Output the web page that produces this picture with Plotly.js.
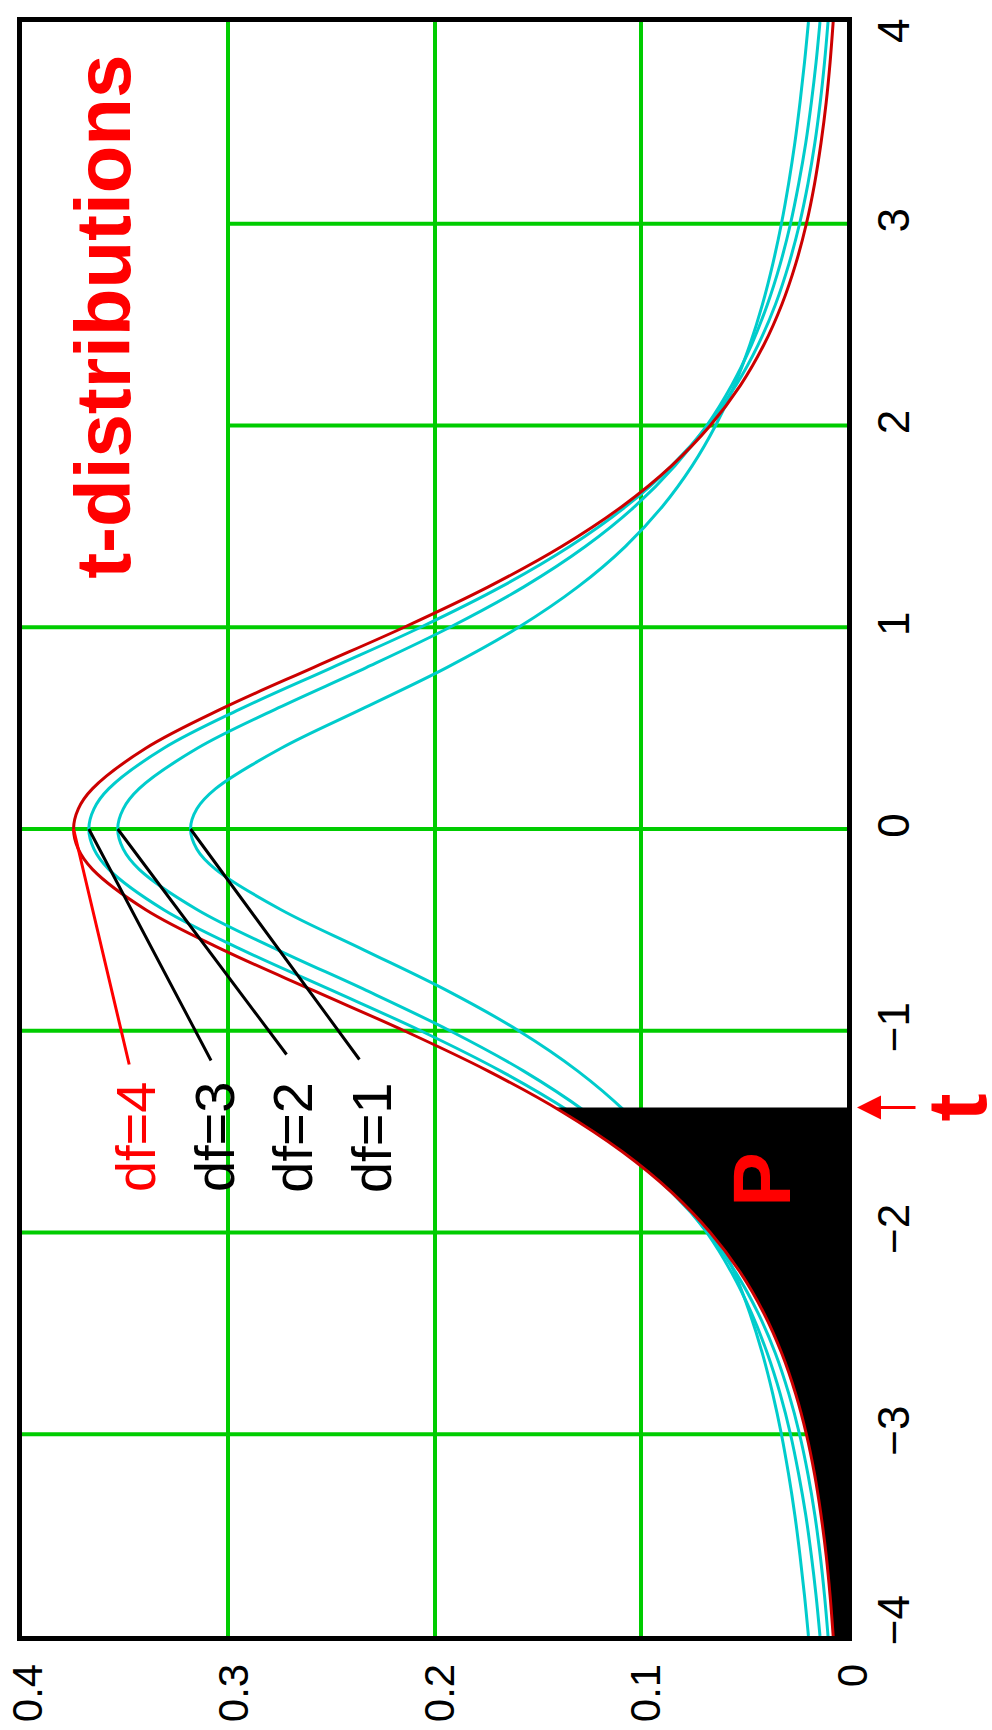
<!DOCTYPE html>
<html>
<head>
<meta charset="utf-8">
<script src="https://cdn.plot.ly/plotly-3.0.1.min.js"></script>
<style>
  html, body { margin: 0; padding: 0; background: #ffffff; }
  #chart { width: 992px; height: 1730px; }
</style>
</head>
<body>
<div id="chart"></div>
<script>
// t values along the horizontal axis of the distributions
const tVals = [-4, -3.8, -3.6, -3.4, -3.2, -3, -2.8, -2.6, -2.4, -2.2, -2, -1.8, -1.6, -1.4, -1.2, -1, -0.8, -0.6, -0.4, -0.2, -0.1,
  0, 0.1, 0.2, 0.4, 0.6, 0.8, 1, 1.2, 1.4, 1.6, 1.8, 2, 2.2, 2.4, 2.6, 2.8, 3, 3.2, 3.4, 3.6, 3.8, 4];

// probability density for each degree of freedom
const densDf1 = [0.0187, 0.0206, 0.0228, 0.0253, 0.0283, 0.0318, 0.0360, 0.0410, 0.0471, 0.0545, 0.0637, 0.0751, 0.0894, 0.1075, 0.1305, 0.1592, 0.1941, 0.2341, 0.2744, 0.3061, 0.3152,
  0.3183, 0.3152, 0.3061, 0.2744, 0.2341, 0.1941, 0.1592, 0.1305, 0.1075, 0.0894, 0.0751, 0.0637, 0.0545, 0.0471, 0.0410, 0.0360, 0.0318, 0.0283, 0.0253, 0.0228, 0.0206, 0.0187];
const densDf2 = [0.0131, 0.0150, 0.0173, 0.0200, 0.0234, 0.0274, 0.0324, 0.0386, 0.0463, 0.0559, 0.0680, 0.0834, 0.1027, 0.1269, 0.1567, 0.1925, 0.2331, 0.2758, 0.3150, 0.3432, 0.3509,
  0.3536, 0.3509, 0.3432, 0.3150, 0.2758, 0.2331, 0.1925, 0.1567, 0.1269, 0.1027, 0.0834, 0.0680, 0.0559, 0.0463, 0.0386, 0.0324, 0.0274, 0.0234, 0.0200, 0.0173, 0.0150, 0.0131];
const densDf3 = [0.0092, 0.0109, 0.0130, 0.0156, 0.0189, 0.0230, 0.0282, 0.0347, 0.0431, 0.0538, 0.0675, 0.0850, 0.1070, 0.1345, 0.1678, 0.2067, 0.2497, 0.2930, 0.3313, 0.3579, 0.3651,
  0.3676, 0.3651, 0.3579, 0.3313, 0.2930, 0.2497, 0.2067, 0.1678, 0.1345, 0.1070, 0.0850, 0.0675, 0.0538, 0.0431, 0.0347, 0.0282, 0.0230, 0.0189, 0.0156, 0.0130, 0.0109, 0.0092];
const densDf4 = [0.0067, 0.0082, 0.0101, 0.0126, 0.0157, 0.0197, 0.0249, 0.0316, 0.0403, 0.0516, 0.0663, 0.0851, 0.1089, 0.1384, 0.1739, 0.2147, 0.2588, 0.3023, 0.3400, 0.3658, 0.3727,
  0.3750, 0.3727, 0.3658, 0.3400, 0.3023, 0.2588, 0.2147, 0.1739, 0.1384, 0.1089, 0.0851, 0.0663, 0.0516, 0.0403, 0.0316, 0.0249, 0.0197, 0.0157, 0.0126, 0.0101, 0.0082, 0.0067];

const dfLabels = ['df=1', 'df=2', 'df=3', 'df=4'];

// cut-off t for the shaded tail area P, and the df=4 density there
const tCut = -1.38;
const densCut = 0.1417;

// axis ticks (end labels on the t axis are padded so they sit inside the frame)
const densTicks = [0, 0.1, 0.2, 0.3, 0.4];
const tTicks = [-4, -3, -2, -1, 0, 1, 2, 3, 4];
const tTickText = ['\u2007\u22124', '\u22123', '\u22122', '\u22121', '0', '1', '2', '3', '4\u2007'];

// horizontal grid rows (t) and the density where each row starts
const gridRowsT = [3, 2, 1, 0, -1, -2, -3];
const gridRowsFrom = [0.3, 0.3, 0.4, 0.4, 0.4, 0.4, 0.4];

const FONT = 'Liberation Sans, Arial, sans-serif';
const CYAN = '#00CCCC';
const DARKRED = '#CC0000';
const RED = '#FF0000';
const GREEN = '#00CC00';

// shaded tail: df=4 curve from t=-4 up to the cut-off
const tailT = [], tailD = [];
for (let i = 0; i < tVals.length; i++) {
  if (tVals[i] < tCut) { tailT.push(tVals[i]); tailD.push(densDf4[i]); }
}
tailT.push(tCut); tailD.push(densCut);

function curve(dens, color) {
  return {
    type: 'scatter', mode: 'lines', x: dens, y: tVals,
    line: { color: color, width: 3, shape: 'spline', smoothing: 1 },
    hoverinfo: 'skip'
  };
}

const traces = [
  curve(densDf1, CYAN),
  curve(densDf2, CYAN),
  curve(densDf3, CYAN),
  {
    type: 'scatter', mode: 'lines', x: tailD, y: tailT,
    fill: 'tozerox', fillcolor: '#000000',
    line: { color: '#000000', width: 0, shape: 'spline', smoothing: 1 },
    hoverinfo: 'skip'
  },
  curve(densDf4, DARKRED)
];

const shapes = gridRowsT.map((t, i) => ({
  type: 'line', xref: 'x', yref: 'y', layer: 'below',
  x0: gridRowsFrom[i], x1: 0, y0: t, y1: t,
  line: { color: GREEN, width: 4 }
}));

// pointers from each label to the peak of its curve (at t = 0)
const iZero = tVals.indexOf(0);
const peaks = [densDf1[iZero], densDf2[iZero], densDf3[iZero], densDf4[iZero]];
const pointerDx = [170, 170, 123, 56];
const pointerDy = [232, 227, 233, 237];
const labelDens = [0.2308, 0.2693, 0.3069, 0.3452];
const labelT = -1.527;
const labelColors = ['#000000', '#000000', '#000000', RED];

const annotations = [];
for (let i = 0; i < 4; i++) {
  annotations.push({
    xref: 'x', yref: 'y', x: peaks[i], y: 0, text: '',
    showarrow: true, arrowhead: 0, arrowwidth: 3, arrowcolor: labelColors[i],
    ax: pointerDx[i], ay: pointerDy[i]
  });
  annotations.push({
    xref: 'x', yref: 'y', x: labelDens[i], y: labelT, text: dfLabels[i],
    showarrow: false, textangle: -90, xanchor: 'center', yanchor: 'middle',
    font: { family: FONT, size: 56, color: labelColors[i] }
  });
}

// title
annotations.push({
  xref: 'paper', yref: 'paper', x: 0.0988, y: 0.817, text: '<b>t-distributions</b>',
  showarrow: false, textangle: -90, xanchor: 'center', yanchor: 'middle',
  font: { family: FONT, size: 78, color: RED }
});

// P inside the shaded tail
annotations.push({
  xref: 'paper', yref: 'paper', x: 0.8958, y: 0.2825, text: '<b>P</b>',
  showarrow: false, textangle: -90, xanchor: 'center', yanchor: 'middle',
  font: { family: FONT, size: 82, color: RED }
});

// arrow marking the cut-off on the t axis, with its t label
annotations.push({
  xref: 'paper', yref: 'y', x: 1, y: tCut, text: '',
  showarrow: true, arrowhead: 2, arrowsize: 1.6, arrowwidth: 3, arrowcolor: RED,
  ax: 70, ay: 0, standoff: 10
});
annotations.push({
  xref: 'paper', yref: 'y', x: 1, y: tCut, xshift: 110, text: '<b>t</b>',
  showarrow: false, textangle: -90, xanchor: 'center', yanchor: 'middle',
  font: { family: FONT, size: 84, color: RED }
});

const layout = {
  width: 992, height: 1730,
  margin: { l: 22, r: 145, t: 22, b: 94, pad: 0 },
  paper_bgcolor: '#ffffff', plot_bgcolor: '#ffffff',
  showlegend: false,
  xaxis: {
    range: [0.4, 0], tickmode: 'array', tickvals: densTicks,
    showgrid: true, gridcolor: GREEN, gridwidth: 4, zeroline: false,
    showline: true, linecolor: '#000000', linewidth: 5, mirror: true,
    ticks: '', tickangle: -90, ticklabelstandoff: 6, ticklabelshift: -6, ticklabeloverflow: 'allow',
    tickfont: { family: FONT, size: 42, color: '#000000' },
    fixedrange: true
  },
  yaxis: {
    range: [-4, 4], tickmode: 'array', tickvals: tTicks, ticktext: tTickText, side: 'right',
    showgrid: false, zeroline: false,
    showline: true, linecolor: '#000000', linewidth: 5, mirror: true,
    ticks: '', tickangle: -90, ticklabelstandoff: 4, ticklabelshift: 3, ticklabeloverflow: 'allow',
    tickfont: { family: FONT, size: 44, color: '#000000' },
    fixedrange: true
  },
  shapes: shapes,
  annotations: annotations
};

Plotly.newPlot('chart', traces, layout, { displayModeBar: false, staticPlot: true });
</script>
</body>
</html>
